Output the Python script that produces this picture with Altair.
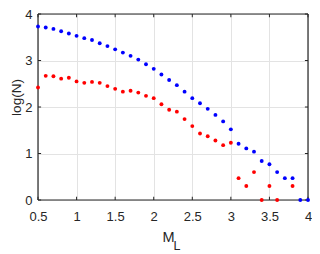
import altair as alt
import pandas as pd

M_L = [0.5, 0.6, 0.7, 0.8, 0.9, 1.0, 1.1, 1.2, 1.3, 1.4, 1.5, 1.6, 1.7, 1.8, 1.9,
       2.0, 2.1, 2.2, 2.3, 2.4, 2.5, 2.6, 2.7, 2.8, 2.9, 3.0, 3.1, 3.2, 3.3, 3.4,
       3.5, 3.6, 3.7, 3.8, 3.9, 4.0]
blue_logN = [3.73, 3.71, 3.68, 3.63, 3.58, 3.53, 3.48, 3.44, 3.37, 3.31, 3.24, 3.17,
             3.10, 3.02, 2.92, 2.82, 2.70, 2.58, 2.47, 2.33, 2.19, 2.08, 1.96, 1.83,
             1.69, 1.52, 1.21, 1.11, 1.04, 0.84, 0.77, 0.60, 0.47, 0.47, 0.0, 0.0]
red_logN = [2.42, 2.67, 2.66, 2.61, 2.63, 2.55, 2.52, 2.54, 2.52, 2.45, 2.39, 2.33,
            2.35, 2.31, 2.24, 2.19, 2.06, 1.94, 1.90, 1.74, 1.59, 1.43, 1.37, 1.28,
            1.18, 1.23, 0.47, 0.30, 0.60, 0.0, 0.30, 0.0, None, 0.30, None, None]
x_ticks = [0.5, 1, 1.5, 2, 2.5, 3, 3.5, 4]
y_ticks = [0, 1, 2, 3, 4]

FONT = "Liberation Sans"
DARK = "#262626"

df = pd.DataFrame({
    "M": M_L * 2,
    "logN": blue_logN + red_logN,
    "series": ["blue"] * len(M_L) + ["red"] * len(M_L),
}).dropna()

xs = alt.Scale(domain=[0.5, 4], nice=False, zero=False)
ys = alt.Scale(domain=[0, 4], nice=False)

x_axis = alt.Axis(values=x_ticks, format="~g", grid=True, gridColor="#e3e3e3",
                  ticks=False, domain=False, labelFont=FONT, labelFontSize=13,
                  labelColor=DARK, labelPadding=10, labelOverlap=False,
                  labelFlush=False, title="M", titleFont=FONT,
                  titleFontSize=14.5, titleFontWeight="normal", titleColor=DARK,
                  titleX=130, titleY=41, titleAlign="center",
                  titleBaseline="alphabetic")
y_axis = alt.Axis(values=y_ticks, format="d", grid=True, gridColor="#e3e3e3",
                  ticks=False, domain=False, labelFont=FONT, labelFontSize=13,
                  labelColor=DARK, labelPadding=6, labelOverlap=False,
                  labelFlush=False, title="log(N)", titleFont=FONT,
                  titleFontSize=13.5, titleFontWeight="normal", titleColor=DARK,
                  titleX=-18, titleY=83, titleAngle=270, titleAlign="center",
                  titleBaseline="alphabetic")

grid_layer = alt.Chart(df).mark_point(opacity=0).encode(
    x=alt.X("M:Q", scale=xs, axis=x_axis),
    y=alt.Y("logN:Q", scale=ys, axis=y_axis),
)

# frame
frame_h = pd.DataFrame({"x": [0.5, 0.5], "x2": [4, 4], "y": [0, 4]})
frame_v = pd.DataFrame({"y": [0, 0], "y2": [4, 4], "x": [0.5, 4]})
fh = alt.Chart(frame_h).mark_rule(color=DARK, strokeWidth=1.2).encode(
    x=alt.X("x:Q", scale=xs, axis=x_axis), x2="x2:Q",
    y=alt.Y("y:Q", scale=ys, axis=y_axis))
fv = alt.Chart(frame_v).mark_rule(color=DARK, strokeWidth=1.2).encode(
    x=alt.X("x:Q", scale=xs, axis=x_axis),
    y=alt.Y("y:Q", scale=ys, axis=y_axis), y2="y2:Q")

# inward ticks
xt = pd.DataFrame({"x": x_ticks * 2,
                   "y": [0] * len(x_ticks) + [4] * len(x_ticks),
                   "y2": [0.07] * len(x_ticks) + [3.93] * len(x_ticks)})
yt = pd.DataFrame({"y": y_ticks * 2,
                   "x": [0.5] * len(y_ticks) + [4] * len(y_ticks),
                   "x2": [0.54] * len(y_ticks) + [3.96] * len(y_ticks)})
xtl = alt.Chart(xt).mark_rule(color=DARK, strokeWidth=1).encode(
    x=alt.X("x:Q", scale=xs, axis=x_axis),
    y=alt.Y("y:Q", scale=ys, axis=y_axis), y2="y2:Q")
ytl = alt.Chart(yt).mark_rule(color=DARK, strokeWidth=1).encode(
    x=alt.X("x:Q", scale=xs, axis=x_axis), x2="x2:Q",
    y=alt.Y("y:Q", scale=ys, axis=y_axis))

points = alt.Chart(df).mark_circle(size=15, opacity=1).encode(
    x=alt.X("M:Q", scale=xs, axis=x_axis),
    y=alt.Y("logN:Q", scale=ys, axis=y_axis),
    color=alt.Color("series:N",
                    scale=alt.Scale(domain=["blue", "red"], range=["#0000ff", "#ff0000"]),
                    legend=None),
)

sub = alt.Chart(pd.DataFrame({"t": ["L"]})).mark_text(
    font=FONT, fontSize=12.5, color=DARK, align="left", baseline="alphabetic"
).encode(text="t:N", x=alt.value(135.5), y=alt.value(236))

chart = alt.layer(grid_layer, fh, fv, xtl, ytl, points, sub).properties(
    width=270, height=186,
    padding={"left": 30, "top": 6, "right": 4, "bottom": 54},
    autosize=alt.AutoSizeParams(type="none"),
).configure_view(stroke=None).configure_axis(labelOverlap=False)

chart.save("out.html", embed_options={"renderer": "svg", "actions": False})
